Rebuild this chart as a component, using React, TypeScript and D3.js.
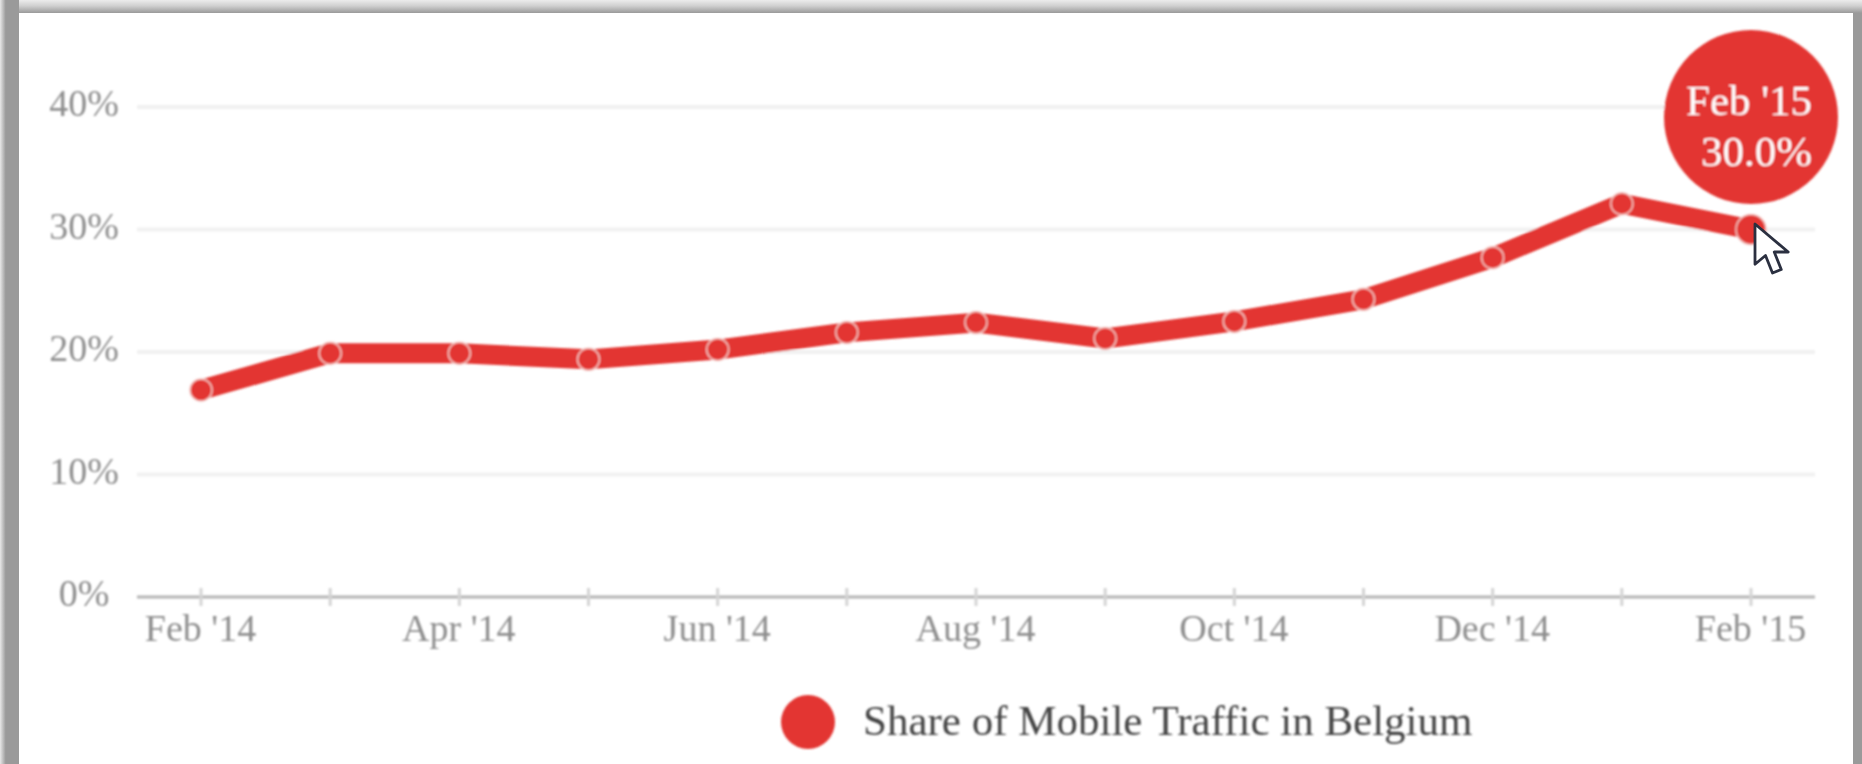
import React, { useRef, useEffect } from 'react';
import * as d3 from 'd3';

const months = ["Feb '14", "Mar '14", "Apr '14", "May '14", "Jun '14", "Jul '14", "Aug '14", "Sep '14", "Oct '14", "Nov '14", "Dec '14", "Jan '15", "Feb '15"];
const xLabels = ["Feb '14", "Apr '14", "Jun '14", "Aug '14", "Oct '14", "Dec '14", "Feb '15"];
const shares = [16.9, 19.9, 19.9, 19.4, 20.2, 21.6, 22.4, 21.1, 22.5, 24.3, 27.7, 32.1, 30.0];
const yTicks = [0, 10, 20, 30, 40];
const seriesName = 'Share of Mobile Traffic in Belgium';

const WIDTH = 1862;
const HEIGHT = 764;
const RED = '#e33631';
const FONT = '"Liberation Serif", serif';

export default function App() {
  const svgRef = useRef<SVGSVGElement | null>(null);

  useEffect(() => {
    const svg = d3.select(svgRef.current);
    svg.selectAll('*').remove();

    const x = d3.scalePoint<string>().domain(months).range([201, 1751]);
    const y = d3.scaleLinear().domain([0, 40]).range([597, 107]);

    // Window frame, soft at the outer edge
    const defs = svg.append('defs');
    const soft = defs.append('filter').attr('id', 'soft')
      .attr('filterUnits', 'userSpaceOnUse')
      .attr('x', 0).attr('y', 0).attr('width', WIDTH).attr('height', HEIGHT);
    soft.append('feGaussianBlur').attr('stdDeviation', 1);

    const topGrad = defs.append('linearGradient').attr('id', 'frameTop')
      .attr('x1', 0).attr('y1', 0).attr('x2', 0).attr('y2', 1);
    topGrad.append('stop').attr('offset', 0).attr('stop-color', '#ececec');
    topGrad.append('stop').attr('offset', 0.45).attr('stop-color', '#d0d0d0');
    topGrad.append('stop').attr('offset', 1).attr('stop-color', '#9a9a9a');

    const leftGrad = defs.append('linearGradient').attr('id', 'frameLeft');
    leftGrad.append('stop').attr('offset', 0).attr('stop-color', '#e8e8e8');
    leftGrad.append('stop').attr('offset', 0.3).attr('stop-color', '#9a9a9a');
    leftGrad.append('stop').attr('offset', 1).attr('stop-color', '#9a9a9a');

    svg.append('rect').attr('width', WIDTH).attr('height', HEIGHT).attr('fill', '#fff');
    svg.append('rect').attr('width', WIDTH).attr('height', 13).attr('fill', 'url(#frameTop)');
    svg.append('rect').attr('width', 19).attr('height', HEIGHT).attr('fill', 'url(#frameLeft)');
    svg.append('rect').attr('x', 1853).attr('width', 9).attr('height', HEIGHT).attr('fill', '#9a9a9a');
    svg.append('rect').attr('x', 1853).attr('width', 9).attr('height', 13).attr('fill', 'url(#frameTop)');

    const chart = svg.append('g').attr('filter', 'url(#soft)');

    // Grid lines
    chart.append('g').selectAll('line')
      .data(yTicks.filter(d => d > 0))
      .join('line')
      .attr('x1', 137).attr('x2', 1815)
      .attr('y1', d => y(d)).attr('y2', d => y(d))
      .attr('stroke', '#f1f1f1')
      .attr('stroke-width', 4);

    chart.append('g').selectAll('text')
      .data(yTicks)
      .join('text')
      .attr('x', 84)
      .attr('y', d => y(d) + 9)
      .attr('text-anchor', 'middle')
      .attr('font-family', FONT)
      .attr('font-size', 38)
      .attr('fill', '#8e8e8e')
      .text(d => `${d}%`);

    // X axis
    chart.append('line')
      .attr('x1', 137).attr('x2', 1815)
      .attr('y1', y(0)).attr('y2', y(0))
      .attr('stroke', '#b4b4b4')
      .attr('stroke-width', 3);

    chart.append('g').selectAll('line')
      .data(months)
      .join('line')
      .attr('x1', d => x(d)!).attr('x2', d => x(d)!)
      .attr('y1', y(0) - 9).attr('y2', y(0) + 9)
      .attr('stroke', '#d4d4d4')
      .attr('stroke-width', 3);

    chart.append('g').selectAll('text')
      .data(xLabels)
      .join('text')
      .attr('x', d => x(d)! - 0.5)
      .attr('y', 641)
      .attr('text-anchor', 'middle')
      .attr('font-family', FONT)
      .attr('font-size', 38)
      .attr('fill', '#8e8e8e')
      .text(d => d);

    // Series line
    const line = d3.line<number>()
      .x((_, i) => x(months[i])!)
      .y(d => y(d));

    chart.append('path')
      .attr('d', line(shares))
      .attr('fill', 'none')
      .attr('stroke', RED)
      .attr('stroke-width', 20)
      .attr('stroke-linejoin', 'round');

    // Points, the last one is hovered
    const last = shares.length - 1;
    chart.append('g').selectAll('circle')
      .data(shares)
      .join('circle')
      .attr('cx', (_, i) => x(months[i])!)
      .attr('cy', d => y(d))
      .attr('r', (_, i) => (i === last ? 15 : 11))
      .attr('fill', RED)
      .attr('stroke', '#f3c4c1')
      .attr('stroke-width', 1.5);

    // Hover bubble
    const hoverX = x(months[last])!;
    chart.append('circle')
      .attr('cx', hoverX).attr('cy', 117).attr('r', 87)
      .attr('fill', RED);

    const bubbleLines = [months[last], `${shares[last].toFixed(1)}%`];
    chart.append('g').selectAll('text')
      .data(bubbleLines)
      .join('text')
      .attr('x', hoverX + 61)
      .attr('y', (_, i) => 115 + i * 51)
      .attr('text-anchor', 'end')
      .attr('font-family', FONT)
      .attr('font-size', 43)
      .attr('fill', '#fff')
      .text(d => d);

    // Legend
    chart.append('circle')
      .attr('cx', 808).attr('cy', 722).attr('r', 27)
      .attr('fill', RED);
    chart.append('text')
      .attr('x', 863).attr('y', 735)
      .attr('font-family', FONT)
      .attr('font-size', 43)
      .attr('fill', '#444')
      .text(seriesName);

    // Mouse cursor
    svg.append('path')
      .attr('transform', 'translate(1755,224) scale(1.75)')
      .attr('d', 'M0 0 L0 23 L6 18 L10 28 L15 26 L11 16 L19 16 Z')
      .attr('fill', '#fff')
      .attr('stroke', '#2b3040')
      .attr('stroke-width', 1.6)
      .attr('stroke-linejoin', 'round');
  }, []);

  return (
    <svg
      ref={svgRef}
      width={WIDTH}
      height={HEIGHT}
      style={{ position: 'absolute', left: 0, top: 0, display: 'block' }}
    />
  );
}
